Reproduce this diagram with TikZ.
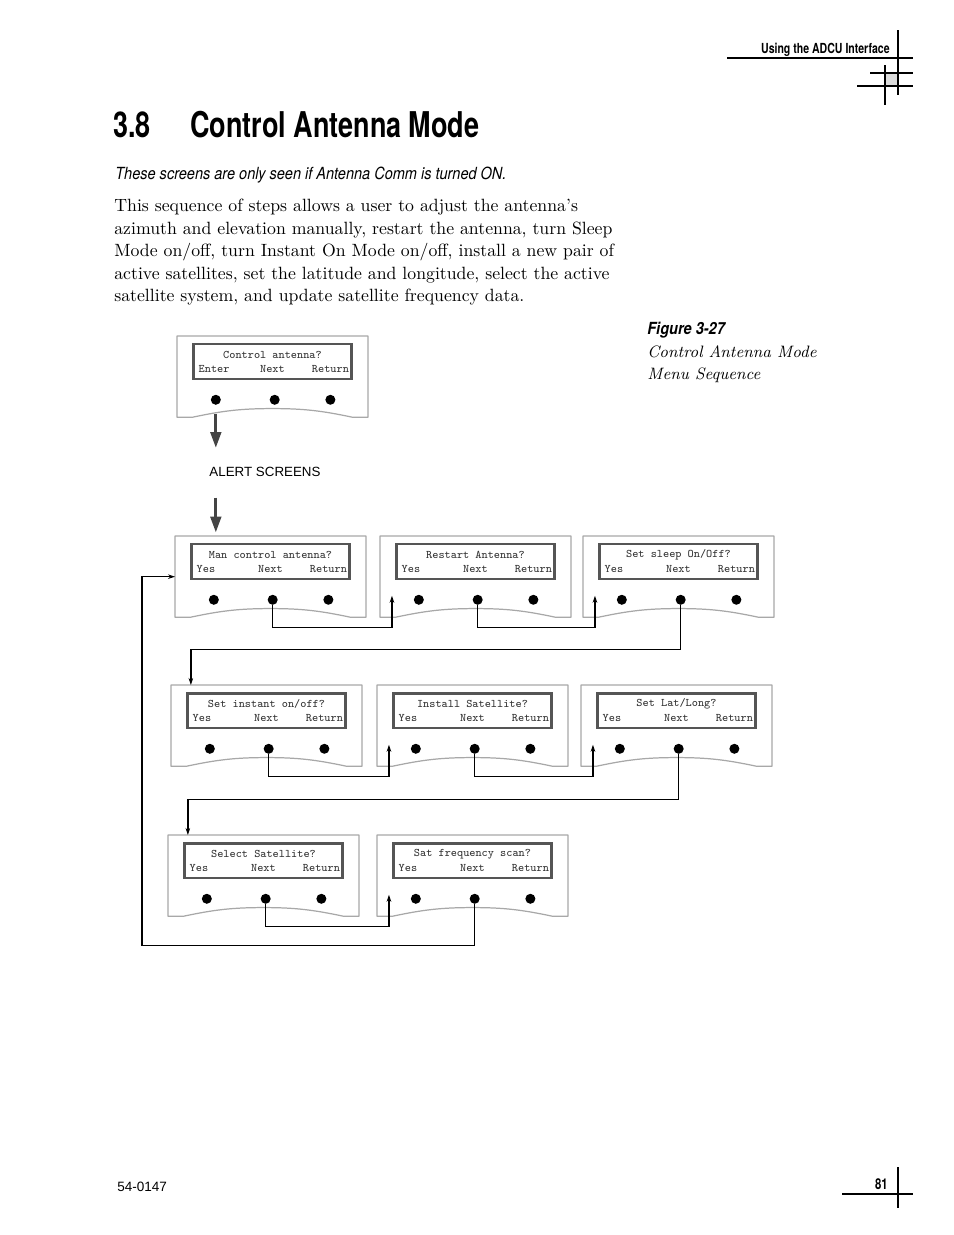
\documentclass[tikz,border=0pt]{standalone}
\usepackage{fontspec}
\newfontfamily\condfont[FakeStretch=0.76]{TeX Gyre Heros}
\newfontfamily\subfont[FakeStretch=0.87]{TeX Gyre Heros}
\newfontfamily\helv{Liberation Sans}
\usepackage{tikz}
\usetikzlibrary{arrows.meta, positioning, calc}

\definecolor{panelgray}{HTML}{A8A8A8}
\definecolor{lcdgray}{HTML}{555555}
\definecolor{arrowgray}{HTML}{444444}
\definecolor{cornergray}{HTML}{DCDCDC}

%% one front panel: name, x, y, prompt, first key
\newcommand{\menupanel}[5]{%
  \node[panel] (#1) at (#2,#3) {};
  \draw[panelline] (#1.north west) -- (#1.north east) -- (#1.south east)
    -- ++(-15,0) to[out=168,in=0] ([yshift=5pt]#1.south)
    to[out=180,in=12] ([xshift=8.5pt]#1.south west) -- (#1.south west) -- cycle;
  \node[lcd, below=4pt of #1.north] (#1-lcd) {};
  \node[lcdtext] (#1-q) at ([yshift=-6.8pt]#1-lcd.north) {#4};
  \node[lcdtext, anchor=west] (#1-k1) at ([xshift=3.5pt,yshift=6.2pt]#1-lcd.south west) {#5};
  \node[lcdtext] (#1-k2) at ([yshift=6.2pt]#1-lcd.south) {Next};
  \node[lcdtext, anchor=east] (#1-k3) at ([xshift=-2pt,yshift=6.2pt]#1-lcd.south east) {Return};
  \node[knob] (#1-b1) at ([xshift=22.1pt,yshift=-36.3pt]#1.north west) {};
  \node[knob] (#1-b2) at ([xshift=55.6pt,yshift=-36.3pt]#1.north west) {};
  \node[knob] (#1-b3) at ([xshift=87.3pt,yshift=-36.3pt]#1.north west) {};
  \coordinate (#1-in) at ([xshift=6.8pt,yshift=-34pt]#1.north west);
}

\begin{document}
\begin{tikzpicture}[
  x=0.02cm, y=-0.02cm,
  panel/.style={anchor=north west, minimum width=108.3pt,
                minimum height=45.9pt, inner sep=0pt},
  panelline/.style={draw=panelgray, line width=0.7pt, line join=round},
  lcd/.style={draw=lcdgray, line width=1.4pt, minimum width=90pt,
              minimum height=19.8pt, inner sep=0pt},
  lcdtext/.style={font=\fontsize{6.6}{7}\ttfamily, text=black!80, inner sep=0pt},
  knob/.style={circle, fill=black, minimum size=5.7pt, inner sep=0pt},
  link/.style={-{Stealth[length=4pt,width=2.6pt]}, line width=0.75pt},
  bigarrow/.style={-{Triangle[length=9pt,width=6pt]}, line width=1.7pt, draw=arrowgray},
  rule/.style={line width=0.6pt}
]
\useasboundingbox (0,0) rectangle (954,1235);

%% running head and page corner
\node[font=\condfont\bfseries\fontsize{7.9}{9}\selectfont, anchor=base east, inner sep=0pt]
  (runhead) at (890,53) {Using the ADCU Interface};
\fill[cornergray] (885,73) rectangle (898,86);
\draw[rule] (727,58) -- (913,58);
\draw[rule] (870,73) -- (913,73);
\draw[rule] (857,86) -- (913,86);
\draw[rule] (885,65) -- (885,105);
\draw[rule] (898,30) -- (898,95);

%% heading and intro
\node[font=\condfont\bfseries\fontsize{20.2}{22}\selectfont, anchor=base west, inner sep=0pt]
  (secnum) at (113,137) {3.8};
\node[font=\condfont\bfseries\fontsize{20.2}{22}\selectfont, anchor=base west, inner sep=0pt]
  (title) at (190,137) {Control Antenna Mode};
\node[font=\subfont\itshape\fontsize{9.5}{11}\selectfont, anchor=base west, inner sep=0pt]
  (note) at (115,179) {These screens are only seen if Antenna Comm is turned ON.};
\node[font=\fontsize{10.1}{12.75}\selectfont, align=left, anchor=north west, inner sep=0pt]
  (intro) at (114,199) {This sequence of steps allows a user to adjust the antenna's\\
  azimuth and elevation manually, restart the antenna, turn Sleep\\
  Mode on/off, turn Instant On Mode on/off, install a new pair of\\
  active satellites, set the latitude and longitude, select the active\\
  satellite system, and update satellite frequency data.};

%% figure caption
\node[font=\subfont\bfseries\itshape\fontsize{9.5}{11}\selectfont, anchor=base west, inner sep=0pt]
  (figno) at (647,334) {Figure 3-27};
\node[font=\fontsize{9.4}{12.75}\selectfont\itshape, align=left, anchor=north west, inner sep=0pt]
  (figcap) at (647,345) {Control Antenna Mode\\Menu Sequence};

%% panels
\menupanel{p0}{177}{336}{Control antenna?}{Enter}
\menupanel{pA}{175}{536}{Man control antenna?}{Yes}
\menupanel{pB}{380}{536}{Restart Antenna?}{Yes}
\menupanel{pC}{583}{536}{Set sleep On/Off?}{Yes}
\menupanel{pD}{171}{685}{Set instant on/off?}{Yes}
\menupanel{pE}{377}{685}{Install Satellite?}{Yes}
\menupanel{pF}{581}{685}{Set Lat/Long?}{Yes}
\menupanel{pG}{168}{835}{Select Satellite?}{Yes}
\menupanel{pH}{377}{835}{Sat frequency scan?}{Yes}

%% entry via alert screens
\node[font=\helv\fontsize{7.6}{9}\selectfont] (alert) at (265,472) {ALERT SCREENS};
\draw[bigarrow, shorten <=-2pt, shorten >=7.5pt] (p0-b1 |- p0.south) -- (p0-b1 |- alert.north);
\draw[bigarrow, shorten <=8.3pt, shorten >=2pt] (p0-b1 |- alert.south) -- (p0-b1 |- pA.north);

%% Next chain
\draw[link] (pA-b2) -- ++(0,28) -| (pB-in);
\draw[link] (pB-b2) -- ++(0,28) -| (pC-in);
\draw[link] (pC-b2) -- ++(0,50) -| ([xshift=11.3pt]pD.north west);
\draw[link] (pD-b2) -- ++(0,28) -| (pE-in);
\draw[link] (pE-b2) -- ++(0,28) -| (pF-in);
\draw[link] (pF-b2) -- ++(0,51) -| ([xshift=11.3pt]pG.north west);
\draw[link] (pG-b2) -- ++(0,28) -| (pH-in);
\draw[link] (pH-b2) -- ++(0,47) -| ([xshift=-18.7pt]pA.west) -- (pA.west);

%% folio
\node[font=\helv\fontsize{7.7}{9}\selectfont, anchor=base west, inner sep=0pt]
  (docno) at (117,1191) {54-0147};
\node[font=\condfont\bfseries\fontsize{8.5}{10}\selectfont, anchor=base east, inner sep=0pt]
  (folio) at (888,1189) {81};
\draw[rule] (842,1194) -- (913,1194);
\draw[rule] (898,1167) -- (898,1208);
\end{tikzpicture}
\end{document}
